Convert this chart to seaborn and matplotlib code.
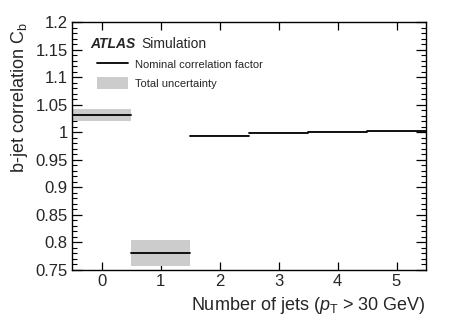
import matplotlib
matplotlib.use('Agg')
import numpy as np
import pandas as pd
import matplotlib.pyplot as plt
import seaborn as sns
from matplotlib.lines import Line2D
from matplotlib.patches import Patch
from matplotlib.ticker import MultipleLocator, FormatStrFormatter

# number of jets bins and correlation values
n_jets = [0, 1, 2, 3, 4, 5]
cb_nominal = [1.032, 0.780, 0.994, 0.999, 1.001, 1.002]
cb_unc_up = [1.043, 0.805, 0.995, 1.000, 1.002, 1.003]
cb_unc_down = [1.021, 0.758, 0.993, 0.998, 1.000, 1.001]

sns.set_style('ticks')
plt.rcParams['font.family'] = ['Liberation Sans', 'DejaVu Sans']
plt.rcParams['mathtext.fontset'] = 'custom'
plt.rcParams['mathtext.rm'] = 'Liberation Sans'
plt.rcParams['mathtext.it'] = 'Liberation Sans:italic'

# one horizontal segment per bin
seg_df = pd.DataFrame({
    'x': np.concatenate([[n - 0.5, n + 0.5] for n in n_jets]),
    'cb': np.repeat(cb_nominal, 2),
    'bin': np.repeat(n_jets, 2),
})

fig = plt.figure(figsize=(4.49, 3.22), dpi=100)
ax = fig.add_axes([72 / 449, 52 / 322, 354 / 449, 248 / 322])

ax.bar(n_jets, np.array(cb_unc_up) - np.array(cb_unc_down), bottom=cb_unc_down,
       width=1.0, color='#cccccc', linewidth=0)
sns.lineplot(data=seg_df, x='x', y='cb', units='bin', estimator=None,
             color='black', linewidth=1.3, ax=ax, legend=False)

ax.set_xlim(-0.5, 5.5)
ax.set_ylim(0.75, 1.2)
ax.xaxis.set_major_locator(MultipleLocator(1))
ax.yaxis.set_major_locator(MultipleLocator(0.05))
ax.yaxis.set_minor_locator(MultipleLocator(0.01))
ax.yaxis.set_major_formatter(FormatStrFormatter('%g'))
ax.tick_params(which='both', direction='in', top=True, right=True, labelsize=12, pad=3,
               color='black')
ax.tick_params(axis='y', which='major', length=7, width=0.9)
ax.tick_params(axis='y', which='minor', length=3.6, width=0.8, left=True, right=True)
ax.tick_params(axis='x', which='major', length=6, width=0.9)
ax.tick_params(axis='x', which='minor', length=0)
for s in ax.spines.values():
    s.set_linewidth(1.0)
    s.set_color('black')

ax.set_xlabel('Number of jets ($p_\\mathregular{T}$ > 30 GeV)', fontsize=13, loc='right')
ax.set_ylabel('b-jet correlation C$_\\mathregular{b}$', fontsize=13, loc='top')

fig.text(90 / 449, 1 - 48 / 322, 'ATLAS', fontsize=10, fontweight='bold', style='italic')
fig.text(141 / 449, 1 - 48 / 322, 'Simulation', fontsize=10)

handles = [Line2D([0], [0], color='black', linewidth=1.3),
           Patch(facecolor='#cccccc', edgecolor='none')]
ax.legend(handles, ['Nominal correlation factor', 'Total uncertainty'],
          loc='upper left', bbox_to_anchor=(25 / 354, 1 - 36 / 248),
          frameon=False, fontsize=8, handlelength=2.8, handleheight=1.3,
          labelspacing=0.6, handletextpad=0.6, borderaxespad=0, borderpad=0)

fig.savefig('out.png', dpi=100)
